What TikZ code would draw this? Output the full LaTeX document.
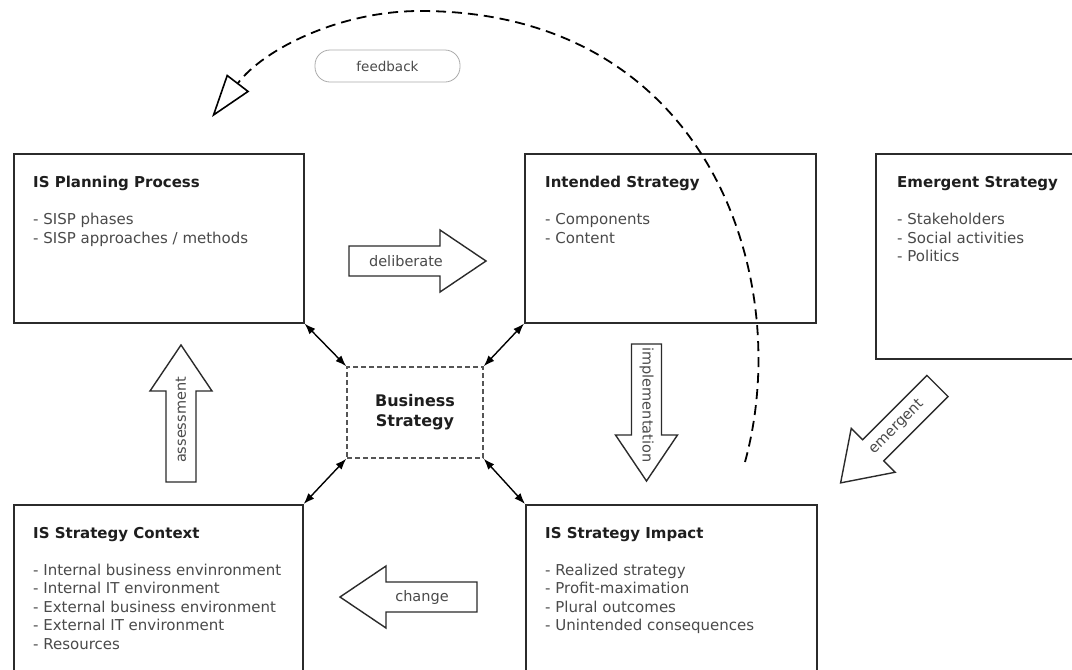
\documentclass[tikz,border=0pt]{standalone}
\usepackage{fontspec}
\setmainfont{DejaVu Sans}
\usetikzlibrary{arrows.meta}

\definecolor{boxline}{HTML}{2B2B2B}
\definecolor{bodytext}{HTML}{4A4A4A}
\definecolor{titletext}{HTML}{1E1E1E}
\definecolor{dashgray}{HTML}{555555}

\tikzset{
  box/.style={draw=boxline, line width=1.6pt, anchor=north west, inner sep=0pt},
  boxtitle/.style={anchor=base west, inner sep=0pt, text=titletext,
    font=\fontsize{15}{18}\selectfont\bfseries},
  item/.style={anchor=base west, inner sep=0pt, text=bodytext,
    font=\fontsize{15}{18}\selectfont},
  bizbox/.style={draw=dashgray, line width=1.5pt, dash pattern=on 5pt off 3pt,
    align=center, text=titletext, font=\fontsize{16}{20}\selectfont\bfseries},
  link/.style={line width=1.4pt, draw=black,
    {Latex[length=11pt,width=8pt]}-{Latex[length=11pt,width=8pt]}},
  pill/.style={draw=gray!65, line width=0.8pt, rounded corners=15pt,
    minimum width=145pt, minimum height=32pt, text=bodytext,
    font=\fontsize{13.5}{16}\selectfont},
  feedbackline/.style={line width=1.8pt, dash pattern=on 10pt off 6pt,
    -{Triangle[open, length=43pt, width=28pt, line width=1.6pt]}},
  blockline/.style={draw=boxline, line width=1.4pt, fill=white},
  arrowtext/.style={inner sep=0pt, text=bodytext, font=\fontsize{14.5}{17}\selectfont},
  % block arrow: tail at the origin, pointing along +x
  pics/blockarrow/.style n args={3}{code={
    \draw[blockline] (0,-15) -- (91,-15) -- (91,-31) -- (137,0) -- (91,31) -- (91,15) -- (0,15) -- cycle;
    \node[arrowtext, transform shape, #3] (-label) at (#2,0) {#1};
  }}
}

\begin{document}
\begin{tikzpicture}[x=1pt,y=-1pt]
\clip (0,0) rectangle (1072,670);
\fill[white] (0,0) rectangle (1072,670);

% framed boxes
\node[box, minimum width=290pt, minimum height=169pt] (plan) at (13,153) {};
\node[box, minimum width=291pt, minimum height=169pt] (intended) at (524,153) {};
\node[box, minimum width=215pt, minimum height=205pt] (emergent) at (875,153) {};
\node[box, minimum width=289pt, minimum height=190pt] (context) at (13,504) {};
\node[box, minimum width=291pt, minimum height=190pt] (impact) at (525,504) {};

% titles
\node[boxtitle] (plan-title) at (33,187.5) {IS Planning Process};
\node[boxtitle] (intended-title) at (545,187.5) {Intended Strategy};
\node[boxtitle] (emergent-title) at (897,187.5) {Emergent Strategy};
\node[boxtitle] (context-title) at (33,538.5) {IS Strategy Context};
\node[boxtitle] (impact-title) at (545,538.5) {IS Strategy Impact};

% item lists
\foreach \t [count=\i from 0] in {SISP phases, SISP approaches / methods}
  \node[item] (plan-item\i) at (33,{224.5+18.7*\i}) {- \t};
\foreach \t [count=\i from 0] in {Components, Content}
  \node[item] (intended-item\i) at (545,{224.5+18.7*\i}) {- \t};
\foreach \t [count=\i from 0] in {Stakeholders, Social activities, Politics}
  \node[item] (emergent-item\i) at (897,{224.5+18.7*\i}) {- \t};
\foreach \t [count=\i from 0] in {Internal business envinronment, Internal IT environment,
    External business environment, External IT environment, Resources}
  \node[item] (context-item\i) at (33,{575+18.5*\i}) {- \t};
\foreach \t [count=\i from 0] in {Realized strategy, Profit-maximation,
    Plural outcomes, Unintended consequences}
  \node[item] (impact-item\i) at (545,{575+18.5*\i}) {- \t};

% central business strategy
\node[bizbox, minimum width=136pt, minimum height=91pt] (biz) at (415,412.5) {Business\\Strategy};

% two-way links to the centre
\draw[link] (plan.south east) -- (biz.north west);
\draw[link] (intended.south west) -- (biz.north east);
\draw[link] (context.north east) -- (biz.south west);
\draw[link] (impact.north west) -- (biz.south east);

% block arrows
\pic (deliberate) at (349,261) {blockarrow={deliberate}{57}{}};
\pic[rotate=-90] (implementation) at (646.5,344) {blockarrow={implementation}{61}{}};
\pic[rotate=90] (assessment) at (181,482) {blockarrow={assessment}{62}{}};
\pic[rotate=180] (change) at (477,597) {blockarrow={change}{55}{rotate=180}};
\pic[rotate=-135] (emergentarrow) at (937.5,386) {blockarrow={emergent}{58}{rotate=180}};

% feedback loop
\node[pill] (feedback) at (387.5,66) {feedback};
\coordinate (fbfrom) at (745,462);
\coordinate (fbtop) at (420,11);
\coordinate (fbto) at (212,117);
\draw[feedbackline] (fbfrom) .. controls (795,280) and (710,11) .. (fbtop)
  .. controls (340,11) and (264,49) .. (fbto);
\end{tikzpicture}
\end{document}
